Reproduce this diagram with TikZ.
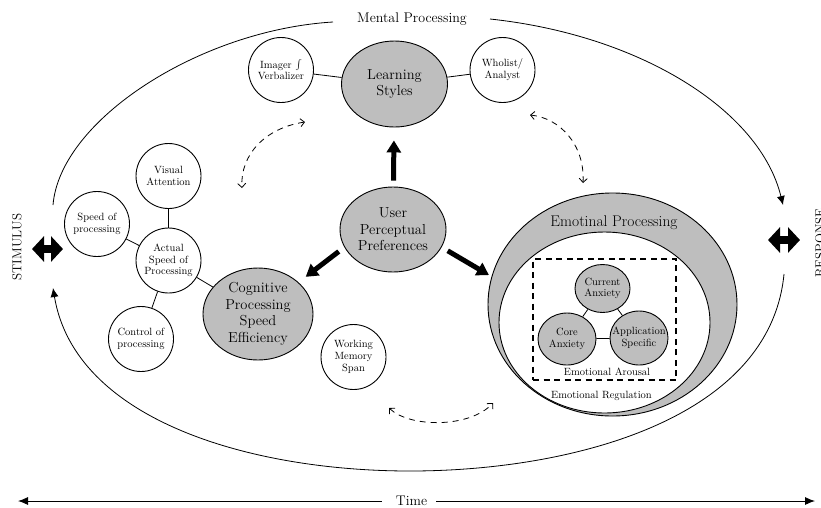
\documentclass[tikz,border=0pt]{standalone}
\usetikzlibrary{shapes.geometric,arrows.meta}
\definecolor{gfill}{RGB}{190,190,190}
\newcommand{\fsz}[2]{\fontsize{#1}{#2}\selectfont}
\begin{document}
\begin{tikzpicture}[x=1pt,y=-1pt,
  gbig/.style={ellipse, draw, fill=gfill, line width=0.9pt, align=center, inner sep=-12pt, font=\fsz{14.5}{16.5}},
  wc/.style={circle, draw, fill=white, line width=0.9pt, align=center, inner sep=-12pt, minimum size=65pt, font=\fsz{10.5}{11.8}},
  gs/.style={ellipse, draw, fill=gfill, line width=0.9pt, align=center, inner sep=-12pt, font=\fsz{10.5}{11.5}},
  lnk/.style={line width=0.8pt},
  bigarrow/.style={line width=5pt, -{Triangle[length=12pt,width=14pt]}},
  dblarrow/.style={line width=8pt, {Triangle[length=12pt,width=25pt]}-{Triangle[length=12pt,width=25pt]}},
  bigarc/.style={line width=0.8pt},
  arctip/.style={-{Latex[length=9pt,width=8pt]}},
  dasharrow/.style={line width=0.8pt, dash pattern=on 6pt off 5pt, {Straight Barb[length=4pt,width=8pt]}-{Straight Barb[length=4pt,width=8pt]}},
  lbl/.style={inner sep=0pt, align=center},
  tarrow/.style={line width=0.9pt, -{Latex[length=10pt,width=8pt]}}
]
\useasboundingbox (0,0) rectangle (821,507);

% outer loop
\node[lbl, font=\fsz{14}{16}] (mp) at (412,19) {Mental Processing};
\coordinate (c1) at (53,205);
\coordinate (c2) at (333,22);
\coordinate (c3) at (490,19);
\coordinate (c4) at (783,205);
\coordinate (c5) at (784,274);
\coordinate (c6) at (410,471);
\coordinate (c7) at (53,288);
\draw[bigarc] (c1) .. controls (60,120) and (200,30) .. (c2);
\draw[bigarc, arctip] (c3) .. controls (640,35) and (760,110) .. (c4);
\draw[bigarc, arctip] (c5) .. controls (770,420) and (570,471) .. (c6) .. controls (250,471) and (75,420) .. (c7);

% stimulus / response
\node[lbl, rotate=90, font=\fsz{13}{15}] (stim) at (17,247) {STIMULUS};
\node[lbl, rotate=90, anchor=north, font=\fsz{13}{15}] (resp) at (815,243) {RESPONSE};
\coordinate (sl1) at (32,249);
\coordinate (sl2) at (63,249);
\draw[dblarrow] (sl1) -- (sl2);
\coordinate (sr1) at (768,240);
\coordinate (sr2) at (800,240);
\draw[dblarrow] (sr1) -- (sr2);

% time
\node[lbl, font=\fsz{14}{16}] (time) at (411.5,501) {Time};
\coordinate (tl) at (18,501);
\coordinate (tr) at (815,501);
\draw[tarrow, shorten <=14pt] (time) -- (tl);
\draw[tarrow, shorten <=9pt] (time) -- (tr);

% emotional processing
\node[ellipse, draw, fill=gfill, line width=0.9pt, minimum width=249pt, minimum height=223pt] (ep) at (612.5,304.5) {};
\node[ellipse, draw, fill=white, line width=0.9pt, minimum width=211pt, minimum height=181pt] (er) at (604.5,322.5) {};
\node[lbl, font=\fsz{15.5}{17}] (eplab) at (614,223) {Emotinal Processing};
\node[draw, line width=1.1pt, dash pattern=on 6pt off 4.5pt, minimum width=143pt, minimum height=121pt, inner sep=0pt] (ea) at (604.5,319.5) {};
\node[lbl, font=\fsz{10.5}{12}] (ealab) at (607,372) {Emotional Arousal};
\node[lbl, font=\fsz{10.5}{12}] (erlab) at (601.5,396) {Emotional Regulation};
\node[gs, minimum width=55pt, minimum height=48pt] (ca) at (602.5,288.5) {Current\\Anxiety};
\node[gs, minimum width=58pt, minimum height=52pt] (co) at (567,339) {Core\\Anxiety};
\node[gs, minimum width=58pt, minimum height=54pt] (ap) at (639,338) {Application\\Specific};
\draw[lnk] (ca) -- (co);
\draw[lnk] (ca) -- (ap);
\draw[lnk] (co) -- (ap);

% learning styles
\node[gbig, minimum width=106pt, minimum height=86pt] (ls) at (394.5,84) {Learning\\Styles};
\node[wc] (iv) at (281,70) {Imager $\int$\\Verbalizer};
\node[wc] (wa) at (502.5,70) {Wholist/\\Analyst};
\draw[lnk] (iv) -- (ls);
\draw[lnk] (ls) -- (wa);

% user perceptual preferences
\node[gbig, minimum width=106pt, minimum height=85pt] (upp) at (393,229.5) {User\\Perceptual\\Preferences};

% cognitive
\node[gbig, minimum width=110pt, minimum height=92pt] (cog) at (258,314) {Cognitive\\Processing\\Speed\\Efficiency};
\node[wc] (wm) at (353.5,357) {Working\\Memory\\Span};
\node[wc] (va) at (168.5,176) {Visual\\Attention};
\node[wc] (sp) at (97,224) {Speed of\\processing};
\node[wc] (as) at (168.5,260.5) {Actual\\Speed of\\Processing};
\node[wc] (cp) at (141,339) {Control of\\processing};
\draw[lnk] (va) -- (as);
\draw[lnk] (sp) -- (as);
\draw[lnk] (as) -- (cp);
\draw[lnk] (as) -- (cog);

% thick arrows
\draw[bigarrow, shorten <=6pt, shorten >=13pt] (upp) -- (ls);
\draw[bigarrow, shorten <=7pt, shorten >=9pt] (upp.200) -- (cog.38);
\draw[bigarrow, shorten <=7pt, shorten >=3pt] (upp.-20) -- (ep.167);

% dashed arrows
\coordinate (d1a) at (305,122);
\coordinate (d1b) at (242,188);
\draw[dasharrow] (d1a) .. controls (265,128) and (240,155) .. (d1b);
\coordinate (d2a) at (530,115);
\coordinate (d2b) at (583,183);
\draw[dasharrow] (d2a) .. controls (560,118) and (585,145) .. (d2b);
\coordinate (d3a) at (389,408);
\coordinate (d3b) at (493,403);
\draw[dasharrow] (d3a) .. controls (410,428) and (470,428) .. (d3b);
\end{tikzpicture}
\end{document}
